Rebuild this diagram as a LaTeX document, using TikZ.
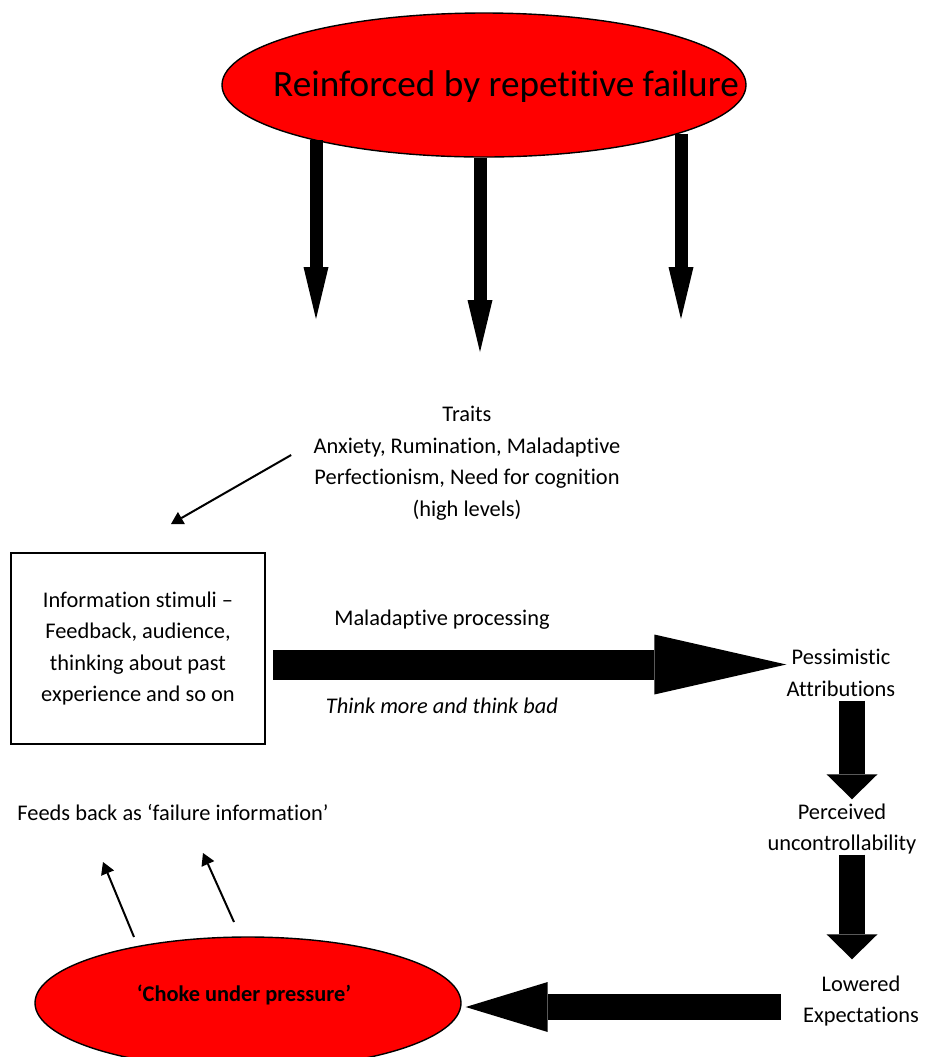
\documentclass[tikz,border=0pt]{standalone}
\usepackage{fontspec}
\setmainfont{Carlito}[Ligatures={TeX,NoCommon}]
\usetikzlibrary{shapes.geometric, arrows.meta, positioning, calc}

\newcommand\bodysize{\fontsize{11.2}{15.75}\selectfont}

\begin{document}
\begin{tikzpicture}[x=0.5pt, y=-0.5pt,
	txt/.style={font=\bodysize, align=center, inner sep=0pt},
	oval/.style={ellipse, draw, fill=red, line width=0.7pt, inner sep=0pt},
	fatarrow/.style n args={3}{line width=#1, -{Triangle[width=#2, length=#3, line width=0pt]}},
	thinarrow/.style={line width=1pt, -{Triangle[width=7pt, length=6pt, line width=0pt]}}]
	\useasboundingbox (0,0) rectangle (925,1057);

	% top oval
	\node[oval, minimum width=262pt, minimum height=72pt] (reinf) at (484,85) {};
	\node[font=\fontsize{18.6}{22}\selectfont, inner sep=0pt] (reinftxt) at (506,87) {Reinforced by repetitive failure};

	\coordinate (tl) at (316,319);
	\coordinate (tm) at (480,352);
	\coordinate (tr) at (681,319);
	\draw[fatarrow={6.5pt}{12.5pt}{26pt}] (tl |- reinf.198) -- (tl);
	\draw[fatarrow={6.5pt}{12.5pt}{26pt}] (tm |- reinf.south) -- (tm);
	\draw[fatarrow={6.5pt}{12.5pt}{26pt}] (tr |- reinf.346) -- (tr);

	% texts
	\node[txt] (traits) at (467,463) {Traits\\Anxiety, Rumination, Maladaptive\\Perfectionism, Need for cognition\\(high levels)};
	\node[txt, draw, line width=1pt, minimum width=127pt, minimum height=95.5pt] (info) at (138,648.5)
		{Information stimuli –\\Feedback, audience,\\thinking about past\\experience and so on};
	\node[txt] (proc) at (442,620) {Maladaptive processing};
	\node[txt] (think) at (442,706) {\itshape Think more and think bad};
	\node[txt] (pess) at (841,673) {Pessimistic\\Attributions};
	\node[txt] (perc) at (842,829) {Perceived\\uncontrollability};
	\node[txt] (lowr) at (861,1001) {Lowered\\Expectations};
	\node[txt] (feeds) at (173,812) {Feeds back as ‘failure information’};

	% bottom oval
	\node[oval, minimum width=213pt, minimum height=66pt] (choke) at (248,1003) {};
	\node[txt, font=\bodysize\bfseries] (choketxt) at (244,995) {‘Choke under pressure’};

	% connectors
	\coordinate (infotip) at (171,524);
	\draw[thinarrow] ([shift={(-22,-8)}]traits.west) -- (infotip);

	\draw[fatarrow={15pt}{30pt}{66pt}] ([shift={(7,16)}]info.east) coordinate (m) -- (m -| pess.west);
	\draw[fatarrow={13pt}{25.5pt}{12.5pt}, shorten >=2pt] ([shift={(11,4)}]pess.south) coordinate (v1) -- (v1 |- perc.north);
	\draw[fatarrow={13pt}{25.5pt}{12.5pt}, shorten >=8pt] ([xshift=5pt]perc.south) coordinate (v2) -- (v2 |- lowr.north);
	\draw[fatarrow={13pt}{25pt}{41pt}, shorten >=2pt] ([shift={(-22,6)}]lowr.west) coordinate (h) -- (h -| choke.east);

	\coordinate (c1) at (134,937);
	\coordinate (c1tip) at (103,862);
	\coordinate (c2) at (234,922);
	\coordinate (c2tip) at (203,853);
	\draw[thinarrow] (c1) -- (c1tip);
	\draw[thinarrow] (c2) -- (c2tip);
\end{tikzpicture}
\end{document}
